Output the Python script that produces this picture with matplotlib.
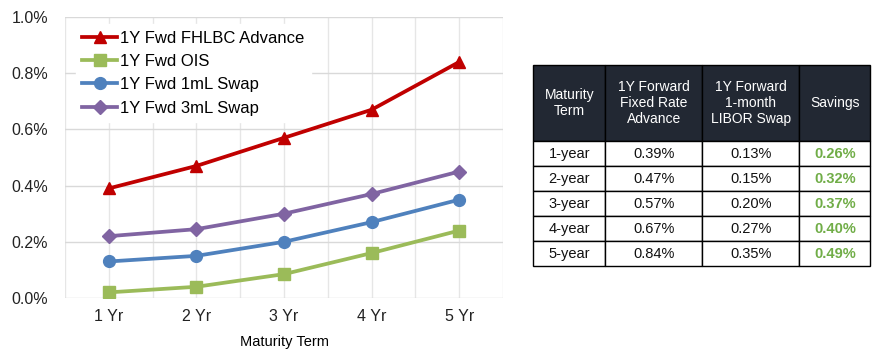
import matplotlib.pyplot as plt
from matplotlib.ticker import FuncFormatter, MultipleLocator

plt.rcParams['font.family'] = ['Liberation Sans', 'DejaVu Sans']

terms = ["1 Yr", "2 Yr", "3 Yr", "4 Yr", "5 Yr"]
fhlbc = [0.39, 0.47, 0.57, 0.67, 0.84]
ois = [0.02, 0.04, 0.085, 0.16, 0.24]
swap_1ml = [0.13, 0.15, 0.20, 0.27, 0.35]
swap_3ml = [0.22, 0.245, 0.30, 0.37, 0.45]

header = ["Maturity\nTerm", "1Y Forward\nFixed Rate\nAdvance", "1Y Forward\n1-month\nLIBOR Swap", "Savings"]
row_terms = ["1-year", "2-year", "3-year", "4-year", "5-year"]
adv_col = ["0.39%", "0.47%", "0.57%", "0.67%", "0.84%"]
libor_col = ["0.13%", "0.15%", "0.20%", "0.27%", "0.35%"]
savings_col = ["0.26%", "0.32%", "0.37%", "0.40%", "0.49%"]

fig = plt.figure(figsize=(8.8, 3.64), dpi=100)
ax = fig.add_axes([0.0739, 0.1813, 0.4977, 0.772])

x = list(range(1, len(terms) + 1))
ax.plot(x, fhlbc, color='#c00000', lw=2.7, marker='^', ms=9, label="1Y Fwd FHLBC Advance", zorder=5)
ax.plot(x, ois, color='#9bbb59', lw=2.7, marker='s', ms=8.5, label="1Y Fwd OIS", zorder=4)
ax.plot(x, swap_1ml, color='#4f81bd', lw=2.7, marker='o', ms=8.5, label="1Y Fwd 1mL Swap", zorder=4)
ax.plot(x, swap_3ml, color='#8064a2', lw=2.7, marker='D', ms=7.5, label="1Y Fwd 3mL Swap", zorder=4)

ax.set_xlim(0.5, 5.5)
ax.set_ylim(0, 1.0)
ax.set_xticks(x)
ax.set_xticklabels(terms)
ax.xaxis.set_minor_locator(MultipleLocator(0.5))
ax.yaxis.set_major_locator(MultipleLocator(0.2))
ax.yaxis.set_major_formatter(FuncFormatter(lambda v, p: f"{v:.1f}%"))
ax.grid(True, which='both', axis='x', color='#e6e6e6', lw=1)
ax.grid(True, which='major', axis='y', color='#d9d9d9', lw=1)
ax.set_axisbelow(True)
for s in ax.spines.values():
    s.set_visible(False)
ax.tick_params(which='both', length=0, labelsize=11.5, colors='#222222', pad=8)
ax.tick_params(axis='y', pad=12)
ax.set_xlabel("Maturity Term", fontsize=10.5, labelpad=8)

leg = ax.legend(loc='upper left', bbox_to_anchor=(0.005, 1.005), fontsize=12,
                frameon=True, fancybox=False, edgecolor='white', facecolor='white', framealpha=1,
                handlelength=2.1, handletextpad=0.15, labelspacing=0.5, borderpad=0.4)
leg.set_zorder(10)

# table
tax = fig.add_axes([0.606, 0.269, 0.383, 0.5524])
tax.axis('off')
cells = [[row_terms[i], adv_col[i], libor_col[i], savings_col[i]] for i in range(len(row_terms))]
tbl = tax.table(cellText=cells, colLabels=header, bbox=[0, 0, 1, 1], cellLoc='center')
tbl.auto_set_font_size(False)
col_w = [72, 97, 97, 71]
for (r, c), cell in tbl.get_celld().items():
    cell.set_width(col_w[c] / sum(col_w))
    cell.set_edgecolor('black')
    cell.set_linewidth(1)
    if r == 0:
        cell.set_height(76 / 201)
        cell.set_facecolor('#222833')
        cell.get_text().set_color('white')
        cell.get_text().set_fontsize(10)
    else:
        cell.set_height(25 / 201)
        cell.set_facecolor('white')
        cell.get_text().set_fontsize(10.5)
        cell.get_text().set_color('#111111')
        if c == 3:
            cell.get_text().set_color('#70ad47')
            cell.get_text().set_fontweight('bold')

fig.savefig("out.png", dpi=100)
